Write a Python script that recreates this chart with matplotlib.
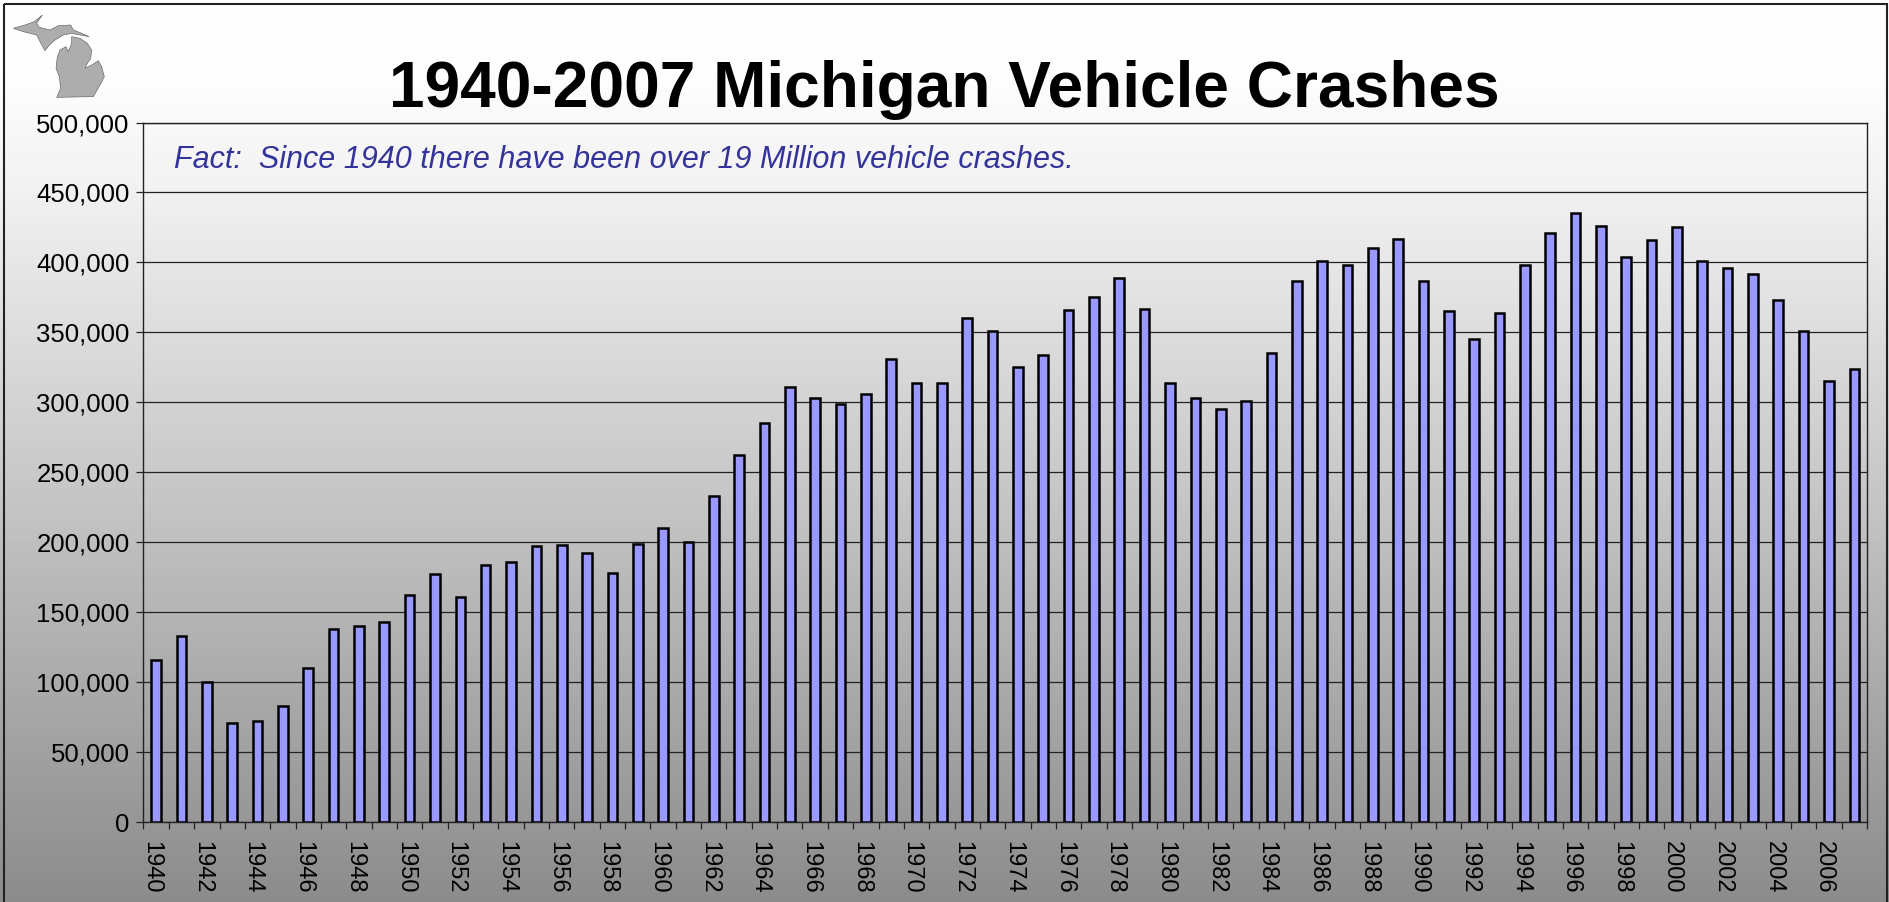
import numpy as np
import matplotlib
matplotlib.use("Agg")
import matplotlib.pyplot as plt
from matplotlib.patches import Polygon, Rectangle
from matplotlib.colors import LinearSegmentedColormap

years = list(range(1940, 2008))
crashes = [116, 133, 100, 71, 72, 83, 110, 138, 140, 143,
           162, 177, 161, 184, 186, 197, 198, 192, 178, 199,
           210, 200, 233, 262, 285, 311, 303, 299, 306, 331,
           314, 314, 360, 351, 325, 334, 366, 375, 389, 367,
           314, 303, 295, 301, 335, 387, 401, 398, 410, 417,
           387, 365, 345, 364, 398, 421, 435, 426, 404, 416,
           425, 401, 396, 392, 373, 351, 315, 324]
crashes = [v * 1000 for v in crashes]
title = "1940-2007 Michigan Vehicle Crashes"
fact = "Fact:  Since 1940 there have been over 19 Million vehicle crashes."
upper_peninsula = [(40,85),(75,75),(103,65),(127,45),(110,70),(118,82),(150,90),(175,77),(212,75),
                   (220,90),(245,100),(268,110),(240,105),(215,100),(190,105),(165,120),(148,135),
                   (135,152),(120,125),(110,105),(70,95)]
lower_peninsula = [(215,110),(240,115),(262,130),(275,150),(272,175),(262,190),(255,205),(275,195),
                   (295,182),(305,200),(313,230),(300,255),(280,290),(170,292),(182,265),(178,230),
                   (168,205),(172,170),(180,150),(198,140),(205,155),(215,130)]

W, H = 1890, 902
plt.rcParams['font.family'] = ['Liberation Sans', 'DejaVu Sans']
fig = plt.figure(figsize=(W / 100, H / 100), dpi=100)

bg = fig.add_axes([0, 0, 1, 1], zorder=0)
cmap = LinearSegmentedColormap.from_list("g", [(0, "#ffffff"), (0.08, "#fefefe"), (0.2, "#f3f3f3"), (1, "#8c8c8c")])
bg.imshow(np.linspace(0, 1, 256).reshape(-1, 1), aspect='auto', cmap=cmap,
          extent=[0, W, H, 0], interpolation='bilinear')
bg.set_xlim(0, W); bg.set_ylim(H, 0); bg.axis('off')
bg.add_patch(Rectangle((3.5, 4), W - 7, H + 10, fill=False, ec='#222222', lw=1.5))
for pts in (upper_peninsula, lower_peninsula):
    bg.add_patch(Polygon([(x / 3, y / 3) for x, y in pts], closed=True, fc='#adadad', ec='#555555', lw=0.4))
bg.text(944, 90, title, fontsize=46.1, fontweight='bold', ha='center', va='center', color='black')

L, R, T, B = 143.5, 1867, 122.5, 822
ax = fig.add_axes([L / W, 1 - B / H, (R - L) / W, (B - T) / H], zorder=1)
ax.patch.set_alpha(0)
x = np.arange(len(years))
ax.bar(x, crashes, width=0.38, color='#9999ff', edgecolor='black', linewidth=1.8, zorder=3)
ax.set_xlim(-0.5, len(years) - 0.5)
ax.set_ylim(0, 500000)
yt = np.arange(0, 500001, 50000)
ax.set_yticks(yt)
ax.set_yticklabels([f"{v:,}" for v in yt], fontsize=18.5, color='black')
ax.yaxis.grid(True, color='#222222', lw=0.9, zorder=1)
ax.set_axisbelow(True)
ax.set_xticks(np.arange(-0.5, len(years), 1))
ax.set_xticklabels([])
ax.tick_params(axis='both', length=5, width=0.9, color='#222222')
ax.tick_params(axis='y', pad=5)
for s in ax.spines.values():
    s.set_linewidth(1.0); s.set_color('#222222')
for i, y in enumerate(years):
    if i % 2 == 0:
        ax.annotate(str(y), xy=(i, 0), xycoords=('data', 'axes fraction'), xytext=(-3.5, -14),
                    textcoords='offset points', rotation=270, ha='center', va='top',
                    fontsize=17, color='black')
bg.text(174.5, 160.5, fact, fontsize=22, style='italic', color='#333399', ha='left', va='center', zorder=5)
ax.set_zorder(1); bg.set_zorder(0)
fig.savefig("out.png", dpi=100)
